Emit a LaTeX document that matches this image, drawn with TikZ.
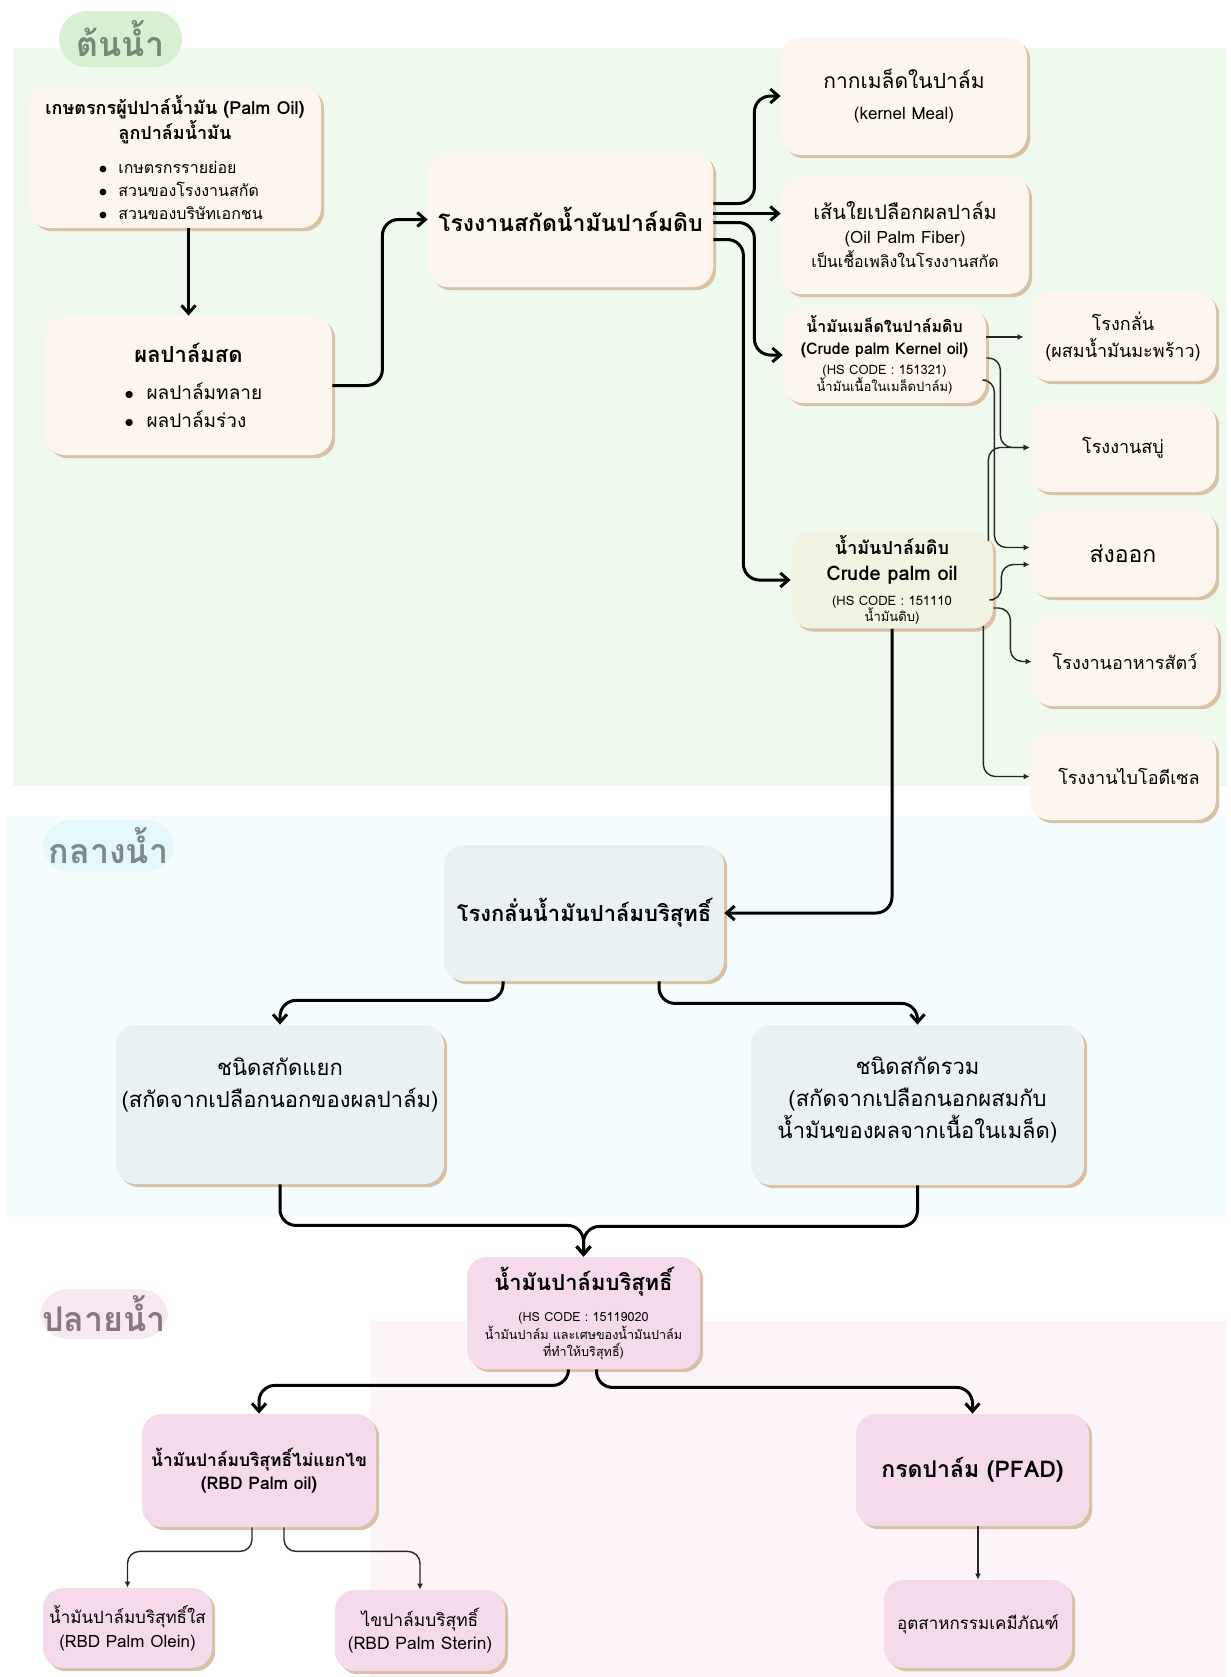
\documentclass[tikz,border=0pt]{standalone}
\usepackage{fontspec}
\setmainfont[Script=Thai]{Loma}
\usetikzlibrary{calc,arrows.meta,shadows}
\pgfdeclarelayer{background}
\pgfsetlayers{background,main}

\definecolor{upband}{HTML}{F0F9EE}
\definecolor{midband}{HTML}{F4FCFD}
\definecolor{lowband}{HTML}{FCF4F9}
\definecolor{uppill}{HTML}{D8F0D2}
\definecolor{midpill}{HTML}{E4F7FA}
\definecolor{lowpill}{HTML}{F7E8F2}
\definecolor{uptext}{HTML}{76887A}
\definecolor{midtext}{HTML}{7E898B}
\definecolor{lowtext}{HTML}{85797F}
\definecolor{cream}{HTML}{FDF6EE}
\definecolor{olive}{HTML}{F2F4E3}
\definecolor{greyblue}{HTML}{EAF1F2}
\definecolor{pinkbox}{HTML}{F5DAEB}
\definecolor{tan}{HTML}{D9C1A5}

\newcommand{\fsz}[1]{\fontsize{#1}{\fpeval{#1*1.2}}\selectfont}
\newcommand{\bsz}[1]{\bfseries\fsz{#1}}
% fixed distance between the lines of a node
\newcommand{\lsp}[1]{\lineskiplimit=-\maxdimen\baselineskip=#1\relax}

\tikzset{
  stagebox/.style={rounded corners=10pt, align=center, inner sep=2pt,
    drop shadow={shadow xshift=1.6pt, shadow yshift=-1.6pt, fill=tan, opacity=1}},
  creambox/.style={stagebox, fill=cream},
  pill/.style={rounded corners=14pt, inner sep=0pt, font=\bsz{17}},
  thick line/.style={line width=1.5pt, rounded corners=8pt, -{Straight Barb[length=4pt,width=7pt]}},
  thin line/.style={line width=0.7pt, black!85, rounded corners=6pt, -{Latex[length=3pt,width=3pt]}},
}

\begin{document}
\begin{tikzpicture}[x=0.5pt,y=-0.5pt]
\useasboundingbox (0,0) rectangle (1231,1677);
\begin{pgfonlayer}{background}
\fill[white] (0,0) rectangle (1231,1677);
\fill[upband] (13,48) rectangle (1227,786);
\fill[midband] (7,816) rectangle (1227,1217);
\fill[lowband] (371,1321) rectangle (1227,1677);
\end{pgfonlayer}

% stage labels
\node[pill, fill=uppill, text=uptext, minimum width=61.5pt, minimum height=28pt] (upstream) at (120.5,39) {ต้นน้ำ};
\node[pill, fill=midpill, text=midtext, minimum width=65.5pt, minimum height=26pt] (midstream) at (108.5,846) {กลางน้ำ};
\node[pill, fill=lowpill, text=lowtext, minimum width=64pt, minimum height=25pt] (downstream) at (104,1314) {ปลายน้ำ};

% upstream
\node[creambox, minimum width=146pt, minimum height=71pt, font=\lsp{11.5pt}] (farmer) at (175,157) {\bsz{9}เกษตรกรผู้ปปาล์น้ำมัน (Palm Oil)\\[1pt] \bsz{9}ลูกปาล์มน้ำมัน\\[5.5pt] \fsz{8}\makebox[76pt][l]{$\bullet$~ เกษตรกรรายย่อย}\\ \fsz{8}\makebox[76pt][l]{$\bullet$~ สวนของโรงงานสกัด}\\ \fsz{8}\makebox[76pt][l]{$\bullet$~ สวนของบริษัทเอกชน}};
\node[creambox, minimum width=143.5pt, minimum height=69.5pt, font=\lsp{14pt}] (fresh) at (188.5,385.5) {\bsz{11}ผลปาล์มสด\\[4.5pt] \fsz{9.5}\makebox[64pt][l]{$\bullet$~ ผลปาล์มทลาย}\\ \fsz{9.5}\makebox[64pt][l]{$\bullet$~ ผลปาล์มร่วง}};
\node[creambox, minimum width=142.5pt, minimum height=67.5pt, font=\bsz{11.5}] (mill) at (570.5,219.5) {โรงงานสกัดน้ำมันปาล์มดิบ};
\node[creambox, minimum width=123pt, minimum height=59pt, font=\lsp{15.5pt}] (meal) at (904,96) {\fsz{10.5}กากเมล็ดในปาล์ม\\ \fsz{8.5}(kernel Meal)};
\node[creambox, minimum width=124pt, minimum height=59pt, font=\lsp{12pt}] (fiber) at (905,235) {\fsz{10}เส้นใยเปลือกผลปาล์ม\\ \fsz{8.5}(Oil Palm Fiber)\\ \fsz{8}เป็นเชื้อเพลิงในโรงงานสกัด};
\node[creambox, minimum width=101.5pt, minimum height=48pt, font=\lsp{8.5pt}] (kernel) at (884.5,355) {\bsz{8}น้ำมันเมล็ดในปาล์มดิบ\\[2.5pt] \bsz{8}(Crude palm Kernel oil)\\[1.5pt] \fsz{6.5}(HS CODE : 151321)\\ \fsz{6.5}น้ำมันเนื้อในเมล็ดปาล์ม)};
\node[stagebox, fill=olive, minimum width=101pt, minimum height=48pt, font=\lsp{8pt}] (crude) at (892,580) {\bsz{9}น้ำมันปาล์มดิบ\\[5pt] \bsz{10}Crude palm oil\\[4.5pt] \fsz{6.5}(HS CODE : 151110\\ \fsz{6.5}น้ำมันดิบ)};
\node[creambox, minimum width=93pt, minimum height=44.5pt, font={\fsz{9}\lsp{13.5pt}}] (refine) at (1123,336.5) {โรงกลั่น\\ (ผสมน้ำมันมะพร้าว)};
\node[creambox, minimum width=93pt, minimum height=44.5pt, font=\fsz{9}] (soap) at (1123,447.5) {โรงงานสบู่};
\node[creambox, minimum width=93pt, minimum height=43.5pt, font=\fsz{11.5}] (export) at (1123,553.5) {ส่งออก};
\node[creambox, minimum width=93pt, minimum height=44.5pt, font=\fsz{9}] (feed) at (1125,661.5) {โรงงานอาหารสัตว์};
\node[creambox, minimum width=93pt, minimum height=43.5pt, font=\fsz{9}] (bio) at (1123,776.5) {\hspace*{6pt}โรงงานไบโอดีเซล};

% midstream
\node[stagebox, fill=greyblue, minimum width=140pt, minimum height=68pt, font=\bsz{11}] (refinery) at (584,913) {โรงกลั่นน้ำมันปาล์มบริสุทธิ์};
\node[stagebox, fill=greyblue, minimum width=164pt, minimum height=79.5pt, font={\fsz{11}\lsp{16pt}}] (separate) at (280,1104.5) {ชนิดสกัดแยก\\ (สกัดจากเปลือกนอกของผลปาล์ม)\\[6pt] \mbox{}};
\node[stagebox, fill=greyblue, minimum width=166.5pt, minimum height=80pt, font={\fsz{11}\lsp{16pt}}] (combined) at (917.5,1105) {ชนิดสกัดรวม\\ (สกัดจากเปลือกนอกผสมกับ\\ น้ำมันของผลจากเนื้อในเมล็ด)\\[-9pt] \mbox{}};

% downstream
\node[stagebox, fill=pinkbox, minimum width=116.5pt, minimum height=56pt, font=\lsp{8.5pt}] (pure) at (583.5,1313) {\bsz{11}น้ำมันปาล์มบริสุทธิ์\\[7pt] \fsz{6.3}(HS CODE : 15119020\\[0.5pt] \fsz{6.3}น้ำมันปาล์ม และเศษของน้ำมันปาล์ม\\ \fsz{6.3}ที่ทำให้บริสุทธิ์)};
\node[stagebox, fill=pinkbox, minimum width=117pt, minimum height=56.5pt, font={\bsz{8.7}\lsp{11.5pt}}] (rbd) at (259,1470.5) {น้ำมันปาล์มบริสุทธิ์ไม่แยกไข\\ (RBD Palm oil)};
\node[stagebox, fill=pinkbox, minimum width=116.5pt, minimum height=56pt, font=\bsz{11.5}] (pfad) at (972.5,1470) {กรดปาล์ม (PFAD)};
\node[stagebox, fill=pinkbox, minimum width=84.5pt, minimum height=40pt, font={\fsz{8.5}\lsp{12pt}}] (olein) at (127.5,1628) {น้ำมันปาล์มบริสุทธิ์ใส\\ (RBD Palm Olein)};
\node[stagebox, fill=pinkbox, minimum width=85pt, minimum height=40.5pt, font={\fsz{8.7}\lsp{11.5pt}}] (sterin) at (420,1630.5) {ไขปาล์มบริสุทธิ์\\ (RBD Palm Sterin)};
\node[stagebox, fill=pinkbox, minimum width=94pt, minimum height=44pt, font=\fsz{8.5}] (chem) at (978,1624) {อุตสาหกรรมเคมีภัณฑ์};

% upstream connectors
\draw[thick line] (fresh.north |- farmer.south) -- (fresh.north);
\draw[thick line] (fresh.east) -- ++(50,0) |- (mill.west);
\draw[thick line] ($(mill.east)+(0,-16)$) -- ++(41,0) |- (meal.west);
\coordinate (m2) at ($(mill.east)+(0,-6)$);
\draw[thick line] (m2) -- (m2 -| fiber.west);
\draw[thick line] ($(mill.east)+(0,3)$) -- ++(41,0) |- (kernel.west);
\draw[thick line] ($(mill.east)+(0,20)$) -- ++(30,0) |- (crude.west);

\coordinate (k1) at ($(kernel.east)+(0,-18)$);
\draw[thin line, shorten >=3pt] (k1) -- (k1 -| refine.west);
\draw[thin line] ($(kernel.east)+(0,3)$) -- ++(14,0) |- (soap.west);
\draw[thin line] ($(kernel.east)+(0,25)$) -- ++(8,0) |- ($(export.west)+(0,-6)$);
\draw[thin line] ($(crude.north east)+(-5,10)$) |- (soap.west);
\draw[thin line] ($(crude.east)+(0,20)$) -- ++(8,0) |- ($(export.west)+(0,11)$);
\draw[thin line] ($(crude.east)+(0,28)$) -- ++(17,0) |- (feed.west);
\draw[thin line] ($(crude.south east)+(-10,-3)$) |- (bio.west);

\draw[thick line] (crude.south) |- (refinery.east);

% midstream connectors
\draw[thick line] ($(refinery.south)+(-81,0)$) -- ++(0,19) -| (separate.north);
\draw[thick line] ($(refinery.south)+(75,0)$) -- ++(0,22) -| (combined.north);
\draw[thick line] (separate.south) -- ++(0,41) -| (pure.north);
\draw[thick line] (combined.south) -- ++(0,41) -| (pure.north);

% downstream connectors
\draw[thick line] ($(pure.south)+(-15,0)$) -- ++(0,16) -| (rbd.north);
\draw[thick line] ($(pure.south)+(13,0)$) -- ++(0,18) -| (pfad.north);
\draw[thin line] ($(rbd.south)+(-7,0)$) -- ++(0,24) -| (olein.north);
\draw[thin line] ($(rbd.south)+(25,0)$) -- ++(0,24) -| (sterin.north);
\draw[thin line] (chem.north |- pfad.south) -- (chem.north);
\end{tikzpicture}
\end{document}
